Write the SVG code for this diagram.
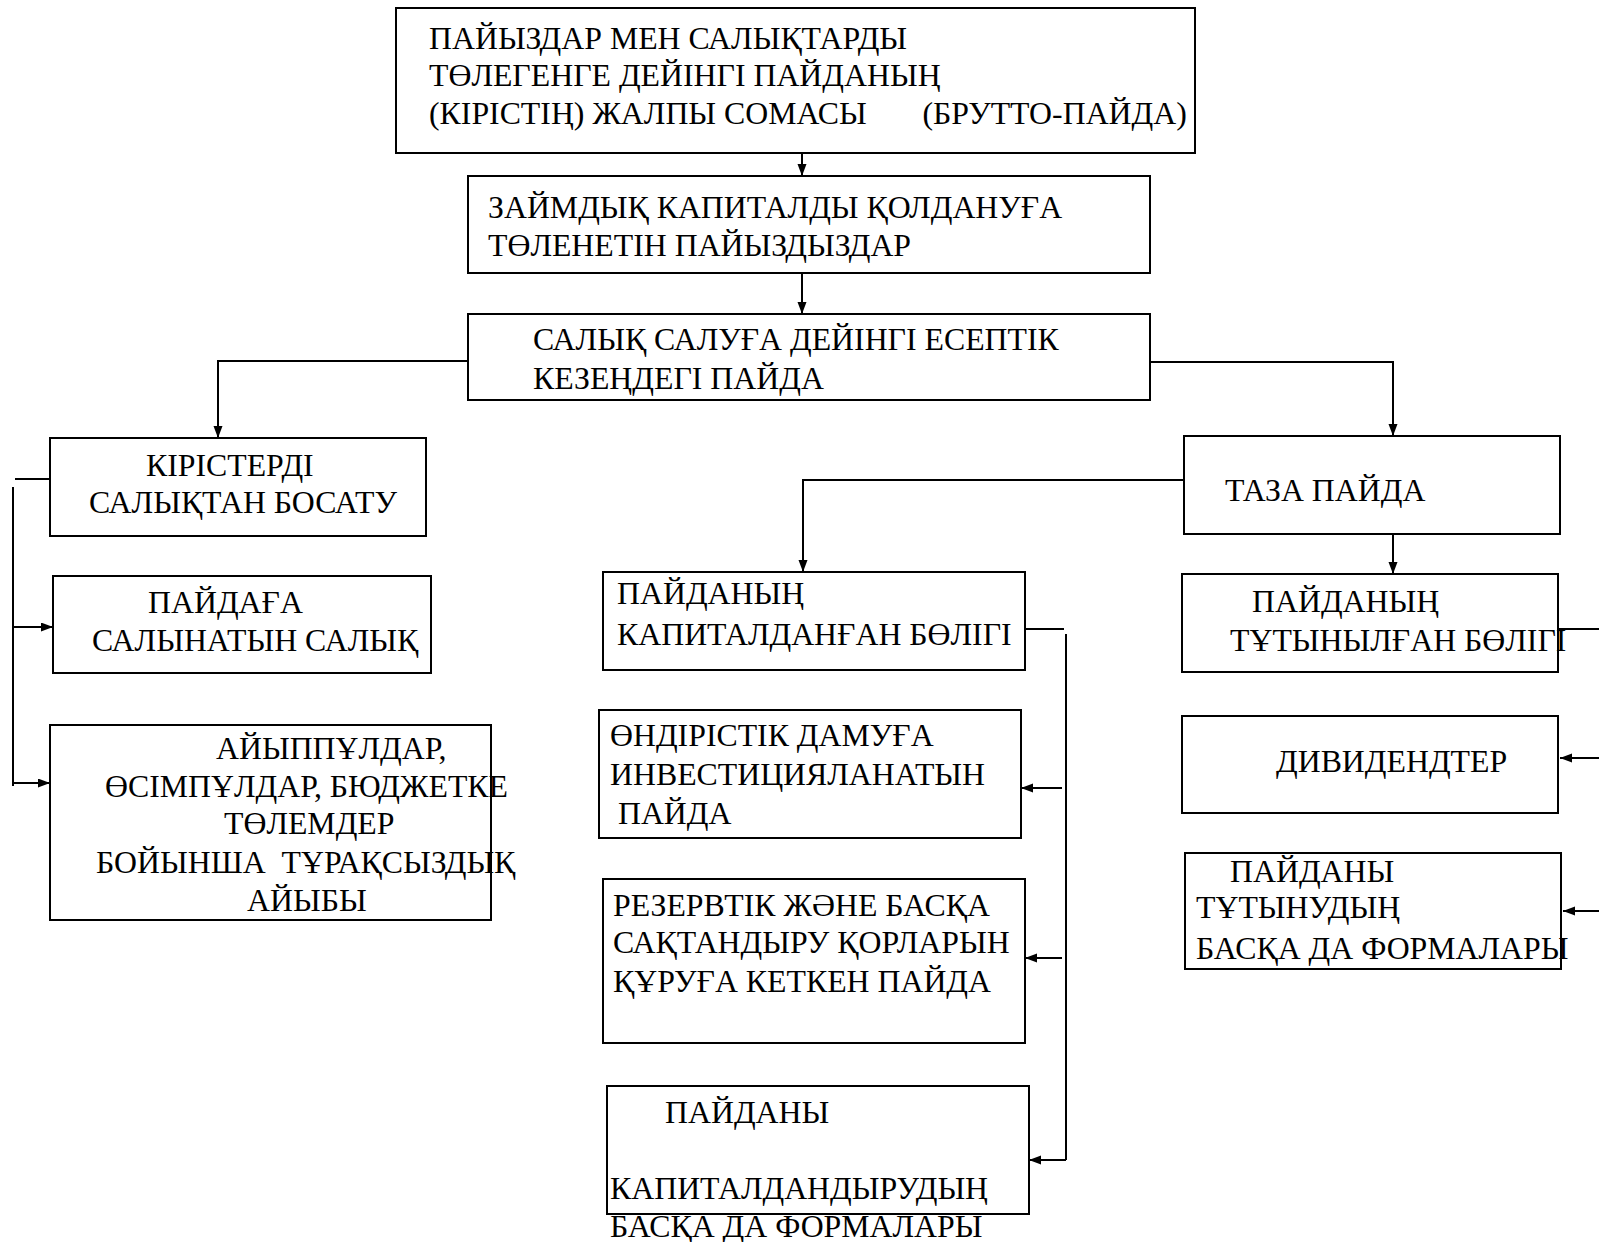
<svg xmlns="http://www.w3.org/2000/svg" width="1599" height="1242" viewBox="0 0 1599 1242">
<style>
.box{fill:#fff;stroke:#000;stroke-width:2}
.t{font-family:"Liberation Serif","Times New Roman",serif;font-size:31.8px;fill:#000}
.c{fill:none;stroke:#000;stroke-width:2}
.a{fill:none;stroke:#000;stroke-width:2;marker-end:url(#ah)}
</style>
<defs>
<marker id="ah" markerUnits="userSpaceOnUse" markerWidth="13" markerHeight="10" refX="12" refY="4.5" orient="auto">
<path d="M0,0 L12,4.5 L0,9 z" fill="#000"/>
</marker>
</defs>
<rect width="1599" height="1242" fill="#fff"/>
<g id="connectors">
<line class="a" x1="802" y1="143" x2="802" y2="176"/>
<line class="a" x1="802" y1="273" x2="802" y2="314"/>
<polyline class="a" points="468,361 218,361 218,438"/>
<polyline class="a" points="1150,362 1393,362 1393,436"/>
<line class="c" x1="50" y1="479" x2="15" y2="479"/>
<line class="c" x1="13" y1="487" x2="13" y2="786"/>
<line class="a" x1="13" y1="627" x2="53" y2="627"/>
<line class="a" x1="13" y1="783" x2="50" y2="783"/>
<polyline class="a" points="1184,480 803,480 803,572"/>
<line class="a" x1="1393" y1="534" x2="1393" y2="574"/>
<line class="c" x1="1025" y1="629" x2="1064" y2="629"/>
<line class="c" x1="1066" y1="634" x2="1066" y2="1160"/>
<line class="a" x1="1062" y1="788" x2="1021" y2="788"/>
<line class="a" x1="1062" y1="958" x2="1025" y2="958"/>
<line class="a" x1="1066" y1="1160" x2="1029" y2="1160"/>
<line class="c" x1="1558" y1="629" x2="1599" y2="629"/>
<line class="a" x1="1599" y1="758" x2="1560" y2="758"/>
<line class="a" x1="1599" y1="911" x2="1563" y2="911"/>
</g>
<g id="n1">
<rect class="box" x="396" y="8" width="799" height="145"/>
<text class="t" x="429" y="49">ПАЙЫЗДАР МЕН САЛЫҚТАРДЫ</text>
<text class="t" x="429" y="86">ТӨЛЕГЕНГЕ ДЕЙІНГІ ПАЙДАНЫҢ</text>
<text class="t" x="429" y="124" xml:space="preserve">(КІРІСТІҢ) ЖАЛПЫ СОМАСЫ       (БРУТТО-ПАЙДА)</text>
</g>
<g id="n2">
<rect class="box" x="468" y="176" width="682" height="97"/>
<text class="t" x="488" y="218">ЗАЙМДЫҚ КАПИТАЛДЫ ҚОЛДАНУҒА</text>
<text class="t" x="488" y="256">ТӨЛЕНЕТІН ПАЙЫЗДЫЗДАР</text>
</g>
<g id="n3">
<rect class="box" x="468" y="314" width="682" height="86"/>
<text class="t" x="533" y="350">САЛЫҚ САЛУҒА ДЕЙІНГІ ЕСЕПТІК</text>
<text class="t" x="533" y="389">КЕЗЕҢДЕГІ ПАЙДА</text>
</g>
<g id="n4">
<rect class="box" x="50" y="438" width="376" height="98"/>
<text class="t" x="146" y="476">КІРІСТЕРДІ</text>
<text class="t" x="89" y="513">САЛЫҚТАН БОСАТУ</text>
</g>
<g id="n5">
<rect class="box" x="53" y="576" width="378" height="97"/>
<text class="t" x="148" y="613">ПАЙДАҒА</text>
<text class="t" x="92" y="651">САЛЫНАТЫН САЛЫҚ</text>
</g>
<g id="n6">
<rect class="box" x="50" y="725" width="441" height="195"/>
<text class="t" x="216" y="759">АЙЫППҰЛДАР,</text>
<text class="t" x="105" y="797">ӨСІМПҰЛДАР, БЮДЖЕТКЕ</text>
<text class="t" x="224" y="834">ТӨЛЕМДЕР</text>
<text class="t" x="96" y="873" xml:space="preserve">БОЙЫНША  ТҰРАҚСЫЗДЫҚ</text>
<text class="t" x="247" y="911">АЙЫБЫ</text>
</g>
<g id="n7">
<rect class="box" x="1184" y="436" width="376" height="98"/>
<text class="t" x="1225" y="501">ТАЗА ПАЙДА</text>
</g>
<g id="n8">
<rect class="box" x="603" y="572" width="422" height="98"/>
<text class="t" x="617" y="604">ПАЙДАНЫҢ</text>
<text class="t" x="617" y="645">КАПИТАЛДАНҒАН БӨЛІГІ</text>
</g>
<g id="n9">
<rect class="box" x="1182" y="574" width="376" height="98"/>
<text class="t" x="1252" y="612">ПАЙДАНЫҢ</text>
<text class="t" x="1230" y="651">ТҰТЫНЫЛҒАН БӨЛІГІ</text>
</g>
<g id="n10">
<rect class="box" x="599" y="710" width="422" height="128"/>
<text class="t" x="610" y="746">ӨНДІРІСТІК ДАМУҒА</text>
<text class="t" x="610" y="785">ИНВЕСТИЦИЯЛАНАТЫН</text>
<text class="t" x="610" y="824" xml:space="preserve"> ПАЙДА</text>
</g>
<g id="n11">
<rect class="box" x="603" y="879" width="422" height="164"/>
<text class="t" x="613" y="916">РЕЗЕРВТІК ЖӘНЕ БАСҚА</text>
<text class="t" x="613" y="953">САҚТАНДЫРУ ҚОРЛАРЫН</text>
<text class="t" x="613" y="992">ҚҰРУҒА КЕТКЕН ПАЙДА</text>
</g>
<g id="n12">
<rect class="box" x="607" y="1086" width="422" height="128"/>
<text class="t" x="665" y="1123">ПАЙДАНЫ</text>
<text class="t" x="610" y="1199">КАПИТАЛДАНДЫРУДЫҢ</text>
<text class="t" x="610" y="1237">БАСҚА ДА ФОРМАЛАРЫ</text>
</g>
<g id="n13">
<rect class="box" x="1182" y="716" width="376" height="97"/>
<text class="t" x="1276" y="772">ДИВИДЕНДТЕР</text>
</g>
<g id="n14">
<rect class="box" x="1185" y="853" width="376" height="116"/>
<text class="t" x="1230" y="882">ПАЙДАНЫ</text>
<text class="t" x="1196" y="918">ТҰТЫНУДЫҢ</text>
<text class="t" x="1196" y="959">БАСҚА ДА ФОРМАЛАРЫ</text>
</g>
</svg>
